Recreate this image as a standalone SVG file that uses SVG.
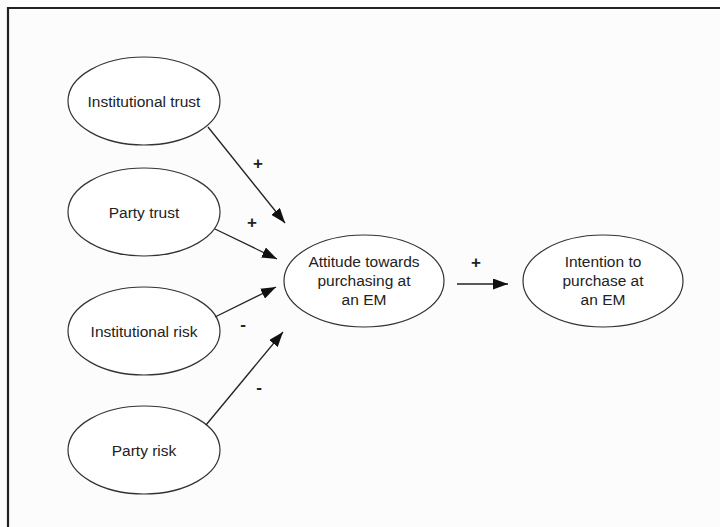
<svg xmlns="http://www.w3.org/2000/svg" width="720" height="527" viewBox="0 0 720 527">
<style>
.node ellipse{fill:#fff;stroke:#333;stroke-width:1.2}
text{font-family:"Liberation Sans",Arial,sans-serif;font-size:15.5px;fill:#222;text-anchor:middle}
.sign{font-weight:bold;font-size:17px}
.conn line{stroke:#222;stroke-width:1.3;marker-end:url(#arr)}
</style>
<defs>
<marker id="arr" markerWidth="15" markerHeight="11" refX="15" refY="5.5" orient="auto" markerUnits="userSpaceOnUse" viewBox="0 0 15 11">
<path d="M0,0 L15,5.5 L0,11 z" fill="#111"/>
</marker>
</defs>
<rect x="0" y="0" width="720" height="527" fill="#fcfcfc"/>
<g id="frame" stroke="#222" stroke-width="2.2">
<line x1="7" y1="8" x2="720" y2="8"/>
<line x1="8" y1="7" x2="8" y2="527"/>
</g>
<g id="institutional-trust" class="node"><ellipse cx="144" cy="101" rx="76" ry="44"/><text x="144" y="107">Institutional trust</text></g>
<g id="party-trust" class="node"><ellipse cx="144" cy="212" rx="76" ry="44"/><text x="144" y="218">Party trust</text></g>
<g id="institutional-risk" class="node"><ellipse cx="144" cy="331" rx="76" ry="44"/><text x="144" y="337">Institutional risk</text></g>
<g id="party-risk" class="node"><ellipse cx="144" cy="450" rx="76" ry="44"/><text x="144" y="456">Party risk</text></g>
<g id="attitude" class="node"><ellipse cx="364" cy="281" rx="80" ry="46"/><text x="364" y="267">Attitude towards</text><text x="364" y="286">purchasing at</text><text x="364" y="305">an EM</text></g>
<g id="intention" class="node"><ellipse cx="603" cy="281" rx="80" ry="46"/><text x="603" y="267">Intention to</text><text x="603" y="286">purchase at</text><text x="603" y="305">an EM</text></g>
<g id="connectors" class="conn">
<line x1="208" y1="127" x2="285" y2="223"/>
<line x1="215" y1="229" x2="277" y2="259"/>
<line x1="215" y1="317" x2="276" y2="287"/>
<line x1="206" y1="425" x2="283" y2="332"/>
<line x1="457" y1="284" x2="508" y2="284"/>
</g>
<g id="labels">
<text class="sign" x="258" y="169">+</text>
<text class="sign" x="252" y="228">+</text>
<text class="sign" x="243" y="330">-</text>
<text class="sign" x="259" y="393">-</text>
<text class="sign" x="476" y="268">+</text>
</g>
</svg>
